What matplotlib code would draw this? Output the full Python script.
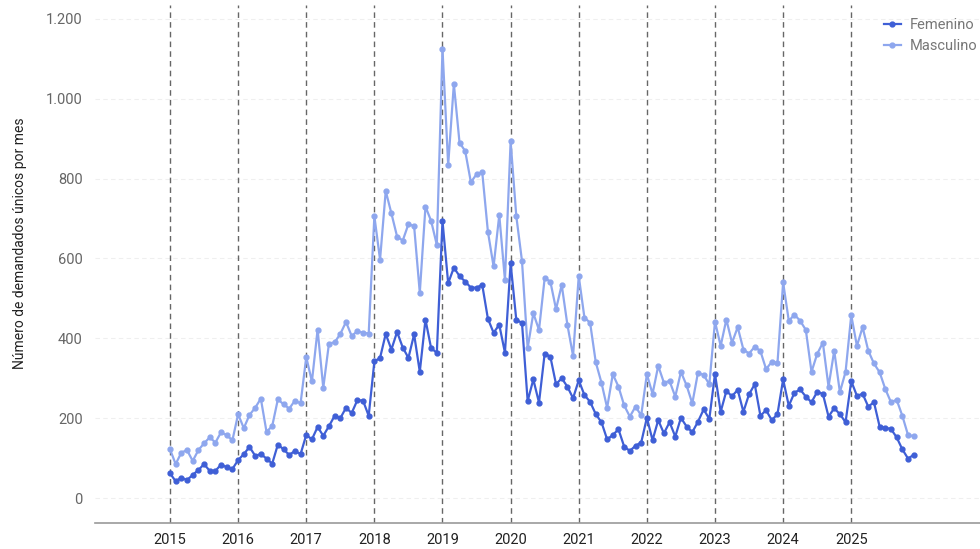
import numpy as np
import matplotlib
matplotlib.use("Agg")
import matplotlib.pyplot as plt
from matplotlib.ticker import FuncFormatter

plt.rcParams['font.family'] = ['Roboto', 'DejaVu Sans']

# monthly values, Jan 2015 .. Dec 2025
years = list(range(2015, 2026))

femenino = [
    62, 42, 51, 45, 58, 70, 85, 68, 68, 84, 77, 73,          # 2015
    95, 110, 128, 106, 110, 99, 86, 134, 122, 108, 118, 110,  # 2016
    158, 147, 178, 156, 180, 206, 200, 226, 213, 245, 244, 206,  # 2017
    342, 351, 411, 372, 416, 377, 351, 410, 316, 447, 375, 364,  # 2018
    694, 538, 577, 556, 542, 527, 527, 534, 449, 414, 434, 364,  # 2019
    588, 446, 439, 243, 297, 239, 362, 354, 285, 300, 279, 250,  # 2020
    295, 258, 241, 210, 190, 147, 158, 172, 129, 118, 131, 139,  # 2021
    201, 145, 195, 162, 190, 154, 201, 179, 165, 191, 222, 198,  # 2022
    311, 216, 268, 255, 271, 216, 260, 285, 206, 220, 195, 210,  # 2023
    297, 231, 264, 272, 254, 240, 266, 261, 204, 225, 210, 190,  # 2024
    293, 256, 261, 229, 240, 179, 176, 173, 152, 122, 99, 108,  # 2025
]

masculino = [
    122, 85, 114, 120, 93, 120, 137, 152, 139, 165, 157, 145,
    210, 175, 208, 226, 249, 166, 180, 247, 235, 224, 244, 237,
    353, 292, 422, 276, 387, 390, 411, 441, 406, 418, 414, 412,
    706, 597, 769, 713, 655, 645, 686, 681, 514, 730, 694, 634,
    1125, 834, 1037, 890, 869, 791, 811, 816, 667, 580, 709, 546,
    893, 706, 594, 375, 463, 421, 551, 542, 473, 534, 434, 356,
    556, 452, 439, 340, 289, 226, 310, 279, 232, 204, 229, 207,
    310, 261, 331, 289, 293, 254, 316, 282, 237, 314, 308, 285,
    442, 381, 447, 389, 428, 372, 362, 379, 368, 323, 341, 337,
    540, 444, 459, 444, 421, 316, 361, 389, 279, 369, 265, 316,
    458, 381, 428, 369, 337, 315, 273, 240, 246, 206, 158, 155,
]

x = 2015 + np.arange(len(femenino)) / 12.0

fig = plt.figure(figsize=(9.8, 5.49), dpi=100)
ax = fig.add_axes([0.097, 0.047, 0.903, 0.944])

for yr in years:
    ax.axvline(yr, color='#666666', linestyle=(0, (4, 3)), linewidth=1.0, zorder=1)

ax.plot(x, femenino, color='#3f5fd6', linewidth=1.6, marker='o', markersize=3.5,
        label='Femenino', zorder=3)
ax.plot(x, masculino, color='#8ea7ee', linewidth=1.6, marker='o', markersize=3.5,
        label='Masculino', zorder=2)

ax.set_xlim(2013.9, 2026.89)
ax.set_ylim(-63, 1235)
ax.set_xticks(years)
ax.set_yticks(range(0, 1201, 200))
ax.yaxis.set_major_formatter(FuncFormatter(lambda v, p: f"{int(v):,}".replace(',', '.')))

ax.grid(axis='y', color='#efefef', linestyle=(0, (4, 3)), linewidth=0.8)
ax.set_axisbelow(True)
for s in ['top', 'right', 'left']:
    ax.spines[s].set_visible(False)
ax.spines['bottom'].set_color('#999999')
ax.spines['bottom'].set_linewidth(1.2)

ax.tick_params(axis='both', length=0, labelsize=10.5, colors='#666666')
ax.tick_params(axis='x', pad=7, labelcolor='#222222')
ax.tick_params(axis='y', pad=9)

ax.set_ylabel('Número de demandados únicos por mes', fontsize=10, color='#222222')
ax.yaxis.set_label_coords(-0.077, 0.54)

leg = ax.legend(loc='upper right', bbox_to_anchor=(1.012, 1.0), frameon=False,
                fontsize=10.5, handlelength=1.2, handletextpad=0.6, labelspacing=0.45)
for t in leg.get_texts():
    t.set_color('#777777')

fig.savefig('out.png', dpi=100)
